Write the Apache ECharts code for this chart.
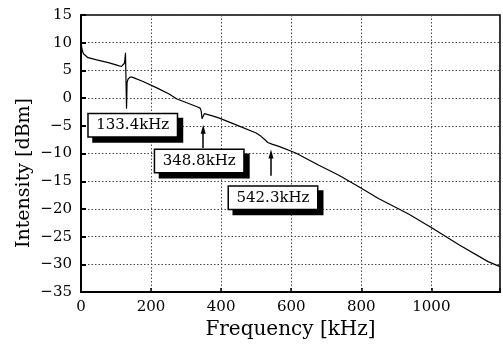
<!DOCTYPE html>
<html>
<head>
<meta charset="utf-8">
<script src="https://cdn.jsdelivr.net/npm/echarts@6/dist/echarts.min.js"></script>
<style>
  html, body { margin: 0; padding: 0; background: #fff; }
  #chart { width: 503px; height: 345px; }
</style>
</head>
<body>
<div id="chart"></div>
<script>
// Spectrum trace: frequency (kHz) and measured intensity (dBm)
const freqKHz = [0, 1, 2, 4, 7, 20, 45, 78, 100, 115, 120, 124, 126, 127, 128.5, 130, 131.5, 134, 140, 146, 177, 215, 253, 272, 300, 333, 340, 343, 345.5, 348, 352, 357, 375, 395, 450, 500, 514, 525, 533, 545, 565, 613, 679, 736, 793, 849, 935, 1001, 1080, 1162, 1196];
const intensityDBm = [10.6, 9.8, 9.2, 8.5, 8.0, 7.3, 6.9, 6.4, 6.0, 5.7, 5.8, 6.3, 7.4, 8.2, 3.0, -1.9, 2.8, 3.4, 3.8, 3.8, 3.0, 1.9, 0.7, -0.1, -0.8, -1.6, -1.8, -2.3, -3.7, -3.4, -2.8, -2.8, -3.2, -3.6, -5.0, -6.3, -6.9, -7.5, -8.0, -8.3, -8.7, -9.9, -12.1, -13.9, -16.0, -18.1, -20.9, -23.4, -26.5, -29.5, -30.4];

// Resonance callouts
const resonanceKHz = [133.4, 348.8, 542.3];
const resonanceText = ['133.4kHz', '348.8kHz', '542.3kHz'];

// Axis ticks
const xTicks = [0, 200, 400, 600, 800, 1000];
const yTicks = [-35, -30, -25, -20, -15, -10, -5, 0, 5, 10, 15];

// Callout layout: box centre (intensity units) and nudge (px)
const boxCenterDBm = [-4.53, -10.97, -17.6];
const boxNudgePx = [[5, 2], [-4, 2], [2, 2]];
// Arrow spans (intensity units) for the callouts that point at the trace
const arrowSpans = [null, [-9.0, -5.6], [-14.0, -10.1]];

const FONT = 'DejaVu Serif';

const chart = echarts.init(document.getElementById('chart'), null, { renderer: 'canvas' });

const series = freqKHz.map((f, i) => [f, intensityDBm[i]]);

const markPoints = resonanceKHz.map((f, i) => ({
  coord: [f, boxCenterDBm[i]],
  label: { formatter: resonanceText[i], offset: boxNudgePx[i] }
}));

const markLines = [];
arrowSpans.forEach((span, i) => {
  if (!span) return;
  markLines.push([
    { coord: [resonanceKHz[i], span[0]], symbol: 'none' },
    { coord: [resonanceKHz[i], span[1]], symbol: 'triangle', symbolSize: [5, 9] }
  ]);
});

chart.setOption({
  animation: false,
  backgroundColor: '#fff',
  grid: {
    left: 81, top: 15, width: 421, height: 282,
    show: true, borderColor: '#000', borderWidth: 1.6, backgroundColor: 'transparent'
  },
  xAxis: {
    type: 'value',
    min: xTicks[0], max: 1196, interval: 200,
    name: 'Frequency [kHz]',
    nameLocation: 'middle', nameGap: 25,
    nameTextStyle: { fontFamily: FONT, fontSize: 20, color: '#000' },
    axisLine: { show: true, onZero: false, lineStyle: { color: '#000', width: 2 } },
    axisTick: { show: true, inside: true, length: 4, lineStyle: { color: '#000', width: 1.5 } },
    axisLabel: {
      margin: 8, color: '#000', fontFamily: FONT, fontSize: 15,
      formatter: v => xTicks.indexOf(v) >= 0 ? String(v) : ''
    },
    splitLine: { show: true, lineStyle: { color: '#444', width: 1, type: [1.5, 2] } }
  },
  yAxis: {
    type: 'value',
    min: yTicks[0], max: yTicks[yTicks.length - 1], interval: 5,
    axisLine: { show: true, onZero: false, lineStyle: { color: '#000', width: 2 } },
    axisTick: { show: true, inside: true, length: 5, lineStyle: { color: '#000', width: 2 } },
    axisLabel: {
      margin: 9, color: '#000', fontFamily: FONT, fontSize: 15,
      formatter: v => v < 0 ? '\u2212' + (-v) : String(v)
    },
    splitLine: { show: true, lineStyle: { color: '#444', width: 1, type: [1.5, 2] } }
  },
  graphic: [{
    type: 'text',
    x: 24, y: 173,
    rotation: Math.PI / 2,
    style: {
      text: 'Intensity [dBm]',
      fontFamily: FONT, fontSize: 19, fill: '#000',
      align: 'center', verticalAlign: 'middle'
    }
  }],
  series: [{
    type: 'line',
    data: series,
    showSymbol: false,
    silent: true,
    lineStyle: { color: '#000', width: 1.2 },
    markLine: {
      silent: true,
      label: { show: false },
      itemStyle: { color: '#000' },
      lineStyle: { color: '#000', width: 1.5, type: 'solid' },
      emphasis: { disabled: true },
      data: markLines
    },
    markPoint: {
      silent: true,
      symbol: 'circle',
      symbolSize: 0,
      itemStyle: { color: 'transparent' },
      label: {
        show: true, position: 'inside',
        color: '#000', fontFamily: FONT, fontSize: 15,
        width: 86, height: 20, lineHeight: 20, align: 'center', verticalAlign: 'middle',
        backgroundColor: '#fff', borderColor: '#000', borderWidth: 1.5, padding: [1, 1],
        shadowColor: '#000', shadowOffsetX: 5, shadowOffsetY: 5, shadowBlur: 0
      },
      emphasis: { disabled: true },
      data: markPoints
    }
  }]
});
</script>
</body>
</html>
